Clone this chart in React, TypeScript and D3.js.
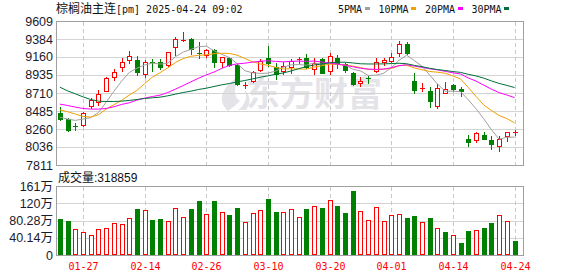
import React from 'react';
import * as d3 from 'd3';

const dates = [
  '01-22','01-23','01-24','01-27','02-05','02-06','02-07','02-10','02-11','02-12',
  '02-13','02-14','02-17','02-18','02-19','02-20','02-21','02-24','02-25','02-26',
  '02-27','02-28','03-03','03-04','03-05','03-06','03-07','03-10','03-11','03-12',
  '03-13','03-14','03-17','03-18','03-19','03-20','03-21','03-24','03-25','03-26',
  '03-27','03-28','03-31','04-01','04-02','04-03','04-07','04-08','04-09','04-10',
  '04-11','04-14','04-15','04-16','04-17','04-18','04-21','04-22','04-23','04-24'];

const opens = [8459,8384,8296,8306,8550,8592,8741,8907,9031,9123,
  9123,8944,9102,9102,9060,9280,9368,9384,9214,9185,
  9247,9102,9152,9060,8795,8865,8998,9143,9040,8990,
  9040,9123,9152,9011,9131,8990,9143,9069,8965,8832,
  8899,8986,9102,9110,9206,9322,8861,8762,8729,8550,
  8716,8812,8762,8135,8127,8181,8119,8044,8169,8210];
const highs = [8529,8396,8335,8467,8646,8749,8907,9011,9143,9239,
  9172,9123,9131,9131,9226,9413,9475,9392,9351,9255,
  9255,9164,9164,9069,8853,8990,9135,9301,9081,9102,
  9135,9164,9197,9143,9152,9206,9185,9081,8977,8907,
  8924,9143,9152,9206,9363,9351,8965,8841,8791,8820,
  8853,8820,8791,8189,8223,8223,8169,8169,8223,8251];
const lows = [8368,8240,8252,8293,8521,8563,8729,8874,8990,9081,
  8936,8915,8990,9015,9052,9189,9363,9193,9143,9164,
  9040,9040,9052,8812,8770,8853,8986,9052,8886,8944,
  8965,9081,9019,8948,8957,8944,9027,8977,8812,8799,
  8832,8969,9060,9102,9172,9193,8716,8729,8529,8521,
  8708,8729,8675,8053,8094,8135,8015,7982,8106,8189];
const closes = [8384,8252,8290,8459,8625,8700,8895,8969,9094,9172,
  8969,9094,9090,9031,9218,9384,9378,9260,9201,9247,
  9102,9156,9060,8820,8807,8969,9114,9081,8948,9048,
  9114,9135,9040,9090,8965,9172,9081,8998,8820,8861,
  8886,9094,9118,9164,9322,9214,8749,8774,8604,8770,
  8758,8758,8741,8098,8210,8140,8073,8140,8223,8223];

// volume in lots
const volumes = [845000,780000,610000,540000,470000,610000,635000,750000,730000,870000,
  1060000,1050000,805000,845000,800000,1100000,890000,1060000,1250000,960000,
  1260000,1007000,938000,1100000,775000,984000,1050000,1310000,1007000,1007000,
  1077000,890000,1077000,1147000,1100000,1287000,1147000,984000,1496000,1030000,
  820000,1120000,800000,938000,960000,868000,914000,775000,868000,635000,
  540000,470000,286000,565000,590000,635000,750000,938000,800000,318859];
// 1 = red (up), 0 = green (down) volume bar
const volUp = [0,0,1,1,1,1,1,1,1,1, 0,1,0,0,1,1,1,0,0,1,
  0,1,0,0,1,1,1,0,0,1, 1,1,0,1,0,1,0,0,0,1,
  1,1,1,1,1,0,0,1,0,1, 0,1,0,0,1,0,0,1,1,0];

// moving-average values before enough in-window closes exist
const ma5Head = [8409,8384,8368,8384];
const ma10Head = [8500,8476,8447,8418,8409,8438,8509,8563,8617];
const ma20Head = [8571,8554,8534,8517,8509,8509,8517,8538,8567,8588,
  8621,8646,8666,8683,8716,8758,8803,8849,8895];
const ma30Head = [8783,8737,8700,8662,8629,8608,8604,8604,8608,8617,
  8629,8642,8650,8658,8675,8695,8716,8733,8754,8770,
  8791,8812,8828,8849,8866,8886,8907,8924,8944];

const priceTicks = [9609,9384,9160,8935,8710,8485,8260,8036,7811];
const volTicks = [0,401400,802800,1204200,1605600];
const volTickLabels = ['0','40.14万','80.28万','120万','161万'];
const xTickDates = ['01-27','02-14','02-26','03-10','03-20','04-01','04-14','04-24'];
const maNames = ['5PMA','10PMA','20PMA','30PMA'];
const maColors = ['#a0a0a0','#f0a000','#ff00ff','#00703a'];
const titleCn = '棕榈油主连';
const titleRest = '[pm] 2025-04-24 09:02';

function movingAvg(head: number[], n: number): number[] {
  return closes.map((_, i) => i < head.length ? head[i] : (d3.mean(closes.slice(i - n + 1, i + 1)) as number));
}

export default function App() {
  const W = 578, H = 276;
  const left = 56, right = 523;
  const pTop = 21, pBot = 165, vTop = 186, vBot = 255;
  const RED = '#ff0000', GREEN = '#008000';

  const x = d3.scaleBand<string>().domain(dates).range([56, 518.4]);
  const bw = x.bandwidth();
  const cx = (d: string) => Math.round((x(d) as number) + bw / 2);
  const y = d3.scaleLinear().domain([7811, 9609]).range([pBot, pTop]);
  const vy = d3.scaleLinear().domain([0, 1605600]).range([vBot, vTop]);

  const mas = [movingAvg(ma5Head, 5), movingAvg(ma10Head, 10), movingAvg(ma20Head, 20), movingAvg(ma30Head, 30)];
  const line = d3.line<number>().x((_, i) => (x(dates[i]) as number) + bw / 2).y(v => y(v));

  const hGrid = (vals: number[], sc: (v: number) => number, top: number, bot: number) =>
    vals.map((v, i) => {
      const yy = Math.round(sc(v)) + 0.5;
      const border = Math.abs(sc(v) - top) < 1 || Math.abs(sc(v) - bot) < 1;
      return <line key={i} x1={left} x2={right} y1={yy} y2={yy} stroke={border ? '#a0a0a0' : '#d4d4d4'} strokeWidth={1} />;
    });

  // legend layout
  const charW = 6.1;
  let lx = 338;
  const legend = maNames.map((n, i) => {
    const tx = lx;
    const sx = tx + n.length * charW + 2.5;
    lx = sx + 5 + 8.5;
    return (
      <g key={n}>
        <text x={tx} y={12.5} fontFamily="'DejaVu Sans Mono', monospace" fontSize={10} fill="#111">{n}</text>
        <rect x={Math.round(sx)} y={7} width={5} height={3} fill={maColors[i]} />
      </g>
    );
  });

  return (
    <svg width={W} height={H} style={{ position: 'absolute', left: 0, top: 0, background: '#fff' }}>
      <rect x={0} y={0} width={W} height={H} fill="#fff" />
      {/* title */}
      <text x={56} y={13} fill="#111">
        <tspan fontFamily="'Noto Sans CJK SC', sans-serif" fontSize={12}>{titleCn}</tspan>
        <tspan fontFamily="'DejaVu Sans Mono', monospace" fontSize={10}>{titleRest}</tspan>
      </text>
      {legend}

      {/* watermark */}
      <g fill="#e4e4e8">
        <path d="M 228 111 C 216 100, 222 86, 242 74 C 233 87, 233 96, 240 101 C 236 105, 232 108, 228 111 Z" />
        <path d="M 238 110 C 246 104, 248 96, 244 90 C 250 94, 252 102, 246 110 Z" />
        <text x={246} y={106} fontFamily="'Noto Sans CJK SC', sans-serif" fontWeight="bold" fontSize={34}>东方财富</text>
      </g>

      {/* grids */}
      {hGrid(priceTicks, y, pTop, pBot)}
      {hGrid(volTicks.concat([1605600]), vy, vTop, vBot)}
      {xTickDates.map(d => (
        <g key={d}>
          <line x1={cx(d) + 0.5} x2={cx(d) + 0.5} y1={pTop + 1} y2={pBot} stroke="#c8c8c8" strokeDasharray="4,3" />
          <line x1={cx(d) + 0.5} x2={cx(d) + 0.5} y1={vTop + 1} y2={vBot} stroke="#c8c8c8" strokeDasharray="4,3" />
        </g>
      ))}
      <line x1={left + 0.5} x2={left + 0.5} y1={pTop} y2={pBot + 1} stroke="#a0a0a0" />
      <line x1={right + 0.5} x2={right + 0.5} y1={pTop} y2={pBot + 1} stroke="#a0a0a0" />
      <line x1={left + 0.5} x2={left + 0.5} y1={vTop} y2={vBot + 1} stroke="#a0a0a0" />
      <line x1={right + 0.5} x2={right + 0.5} y1={vTop} y2={vBot + 1} stroke="#a0a0a0" />

      {/* price labels */}
      {priceTicks.map(v => (
        <text key={v} x={53} y={y(v)} dy="0.36em" textAnchor="end" fontFamily="'Liberation Sans', Arial, sans-serif" fontSize={12.5} fill="#1a1a2e">{v}</text>
      ))}
      {volTicks.map((v, i) => (
        <text key={v} x={53} y={vy(v)} dy="0.36em" textAnchor="end" fontFamily="'Liberation Sans', Arial, 'Noto Sans CJK SC', sans-serif" fontSize={12.5} fill="#1a1a2e">{volTickLabels[i]}</text>
      ))}
      <text x={58} y={182} fill="#111">
        <tspan fontFamily="'Noto Sans CJK SC', sans-serif" fontSize={12}>成交量</tspan>
        <tspan fontFamily="'Liberation Sans', Arial, sans-serif" fontSize={12}>{':' + volumes[volumes.length - 1]}</tspan>
      </text>

      {/* candles */}
      {dates.map((d, i) => {
        const c = cx(d);
        const o = opens[i], cl = closes[i];
        const up = cl >= o;
        const yT = Math.round(y(Math.max(o, cl)));
        const yB = Math.round(y(Math.min(o, cl)));
        const hh = Math.max(yB - yT, 1);
        const col = up ? RED : GREEN;
        return (
          <g key={d}>
            <line x1={c + 0.5} x2={c + 0.5} y1={Math.round(y(highs[i]))} y2={Math.round(y(lows[i])) + 1} stroke={col} />
            {hh <= 1 ? (
              <rect x={c - 2} y={yT} width={5} height={1} fill={col} />
            ) : up ? (
              <rect x={c - 1.5} y={yT + 0.5} width={4} height={hh} fill="#fff" stroke={RED} />
            ) : (
              <rect x={c - 2} y={yT} width={5} height={hh + 1} fill={GREEN} />
            )}
          </g>
        );
      })}

      {/* moving averages */}
      {mas.map((m, k) => (
        <path key={k} d={line(m) as string} fill="none" stroke={maColors[k]} strokeWidth={1} />
      ))}

      {/* volume bars */}
      {dates.map((d, i) => {
        const c = cx(d);
        const t = Math.round(vy(volumes[i]));
        return volUp[i] ? (
          <rect key={d} x={c - 1.5} y={t + 0.5} width={4} height={vBot - t - 1} fill="#fff" stroke={RED} />
        ) : (
          <rect key={d} x={c - 2} y={t} width={5} height={vBot - t} fill={GREEN} />
        );
      })}
      <line x1={left} x2={right + 1} y1={vBot + 0.5} y2={vBot + 0.5} stroke="#a0a0a0" />

      {/* x labels */}
      {xTickDates.map(d => (
        <text key={d} x={cx(d) + 0.5} y={270} textAnchor="middle" fontFamily="'DejaVu Sans Mono', monospace" fontSize={10} fill={RED}>{d}</text>
      ))}
    </svg>
  );
}
